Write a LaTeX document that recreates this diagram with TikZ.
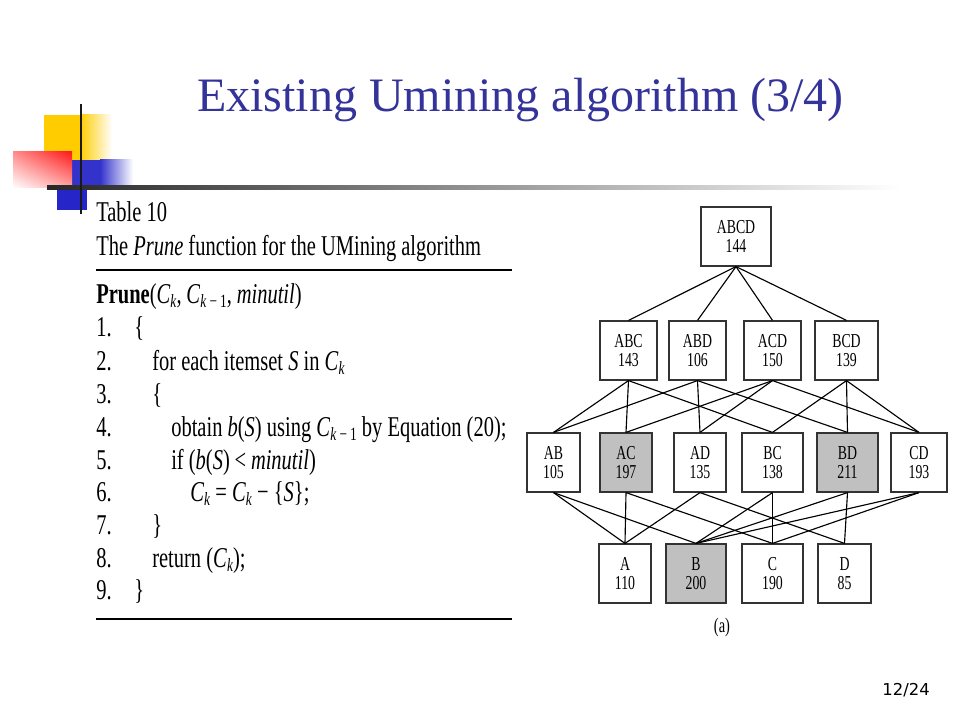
\documentclass[tikz,border=0pt]{standalone}
\usepackage{fontspec}
\usetikzlibrary{shadings}
\setmainfont{Liberation Serif}
\newfontfamily\tabfont[FakeStretch=0.715]{Liberation Serif}
\newfontfamily\latfont[FakeStretch=0.70]{Liberation Serif}
\newfontfamily\pgfont{DejaVu Sans}
\definecolor{titleblue}{HTML}{333399}
\definecolor{logoyel}{HTML}{FFCC00}
\definecolor{logoblue}{HTML}{3333CC}
\definecolor{logoblue2}{HTML}{2626C8}
\definecolor{logored}{HTML}{FF1A1A}
\definecolor{boxgray}{HTML}{C0C0C0}
\newcommand\subx[1]{\raisebox{-0.35ex}{\fontsize{14}{14}\selectfont #1}}
\newcommand\Cx[1]{\textit{C}\subx{#1}}
\begin{document}
\begin{tikzpicture}[x=0.75pt,y=-0.75pt,
  tl/.style={anchor=base west, inner sep=0pt, font=\tabfont\fontsize{21.5}{24}\selectfont, text=black},
  lat/.style={draw=black!80, line width=0.9pt, inner sep=0pt, minimum width=#1*0.75pt,
    minimum height=59*0.75pt, align=center, font=\latfont\fontsize{14.8}{14}\selectfont},
  latg/.style={lat=#1, fill=boxgray},
  edge/.style={line width=0.85pt, black}]
\useasboundingbox (0,0) rectangle (960,720);
\fill[white] (0,0) rectangle (960,720);

% ---- logo ----
\fill[logoyel] (44,115) rectangle (80,160);
\shade[left color=logoyel, right color=white] (80,115) rectangle (112,160);
\fill[logoblue] (72,160) rectangle (100,188);
\shade[left color=logoblue, right color=white] (100,160) rectangle (133,188);
\shade[upper left=red!45!white, upper right=logored, lower left=white, lower right=red!35!white] (13,152) rectangle (72,188);
\fill[logoblue2] (57,188) rectangle (87,210);
\shade[left color=black!85, right color=white] (47,186) rectangle (900,190);
\draw[line width=2.2pt, black!90] (81,104) -- (81,214);

% ---- title ----
\node[anchor=base west, inner sep=0pt, font=\fontsize{36}{36}\selectfont, text=titleblue] (title) at (197,112) {Existing Umining algorithm (3/4)};

% ---- table ----
\node[tl] (t0) at (96,222) {Table 10};
\node[tl] (t1) at (96,256) {The \textit{Prune} function for the UMining algorithm};
\draw[line width=1.4pt] (96,270) -- (512,270);
\node[tl] (p0) at (96,303) {\textbf{Prune}(\Cx{\textit{k}},\,\Cx{\textit{k}\,−\,1},\,\textit{minutil})};
\node[tl] (n1) at (96,336) {1.};
\node[tl] (n2) at (96,370) {2.};
\node[tl] (n3) at (96,403) {3.};
\node[tl] (n4) at (96,436) {4.};
\node[tl] (n5) at (96,469) {5.};
\node[tl] (n6) at (96,501) {6.};
\node[tl] (n7) at (96,534) {7.};
\node[tl] (n8) at (96,567) {8.};
\node[tl] (n9) at (96,599) {9.};
\node[tl] (l1) at (134,336) {\{};
\node[tl] (l2) at (152,370) {for each itemset \textit{S} in \Cx{\textit{k}}};
\node[tl] (l3) at (152,403) {\{};
\node[tl] (l4) at (171,436) {obtain \textit{b}(\textit{S}) using \Cx{\textit{k}\,−\,1} by Equation (20);};
\node[tl] (l5) at (171,469) {if (\textit{b}(\textit{S})\,<\,\textit{minutil})};
\node[tl] (l6) at (190,501) {\Cx{\textit{k}} = \Cx{\textit{k}} − \{\textit{S}\};};
\node[tl] (l7) at (152,534) {\}};
\node[tl] (l8) at (152,567) {return (\Cx{\textit{k}});};
\node[tl] (l9) at (134,599) {\}};
\draw[line width=2pt] (96,619) -- (512,619);

% ---- lattice ----
\node[lat=70] (abcd) at (736,236.5) {ABCD\\144};
\node[lat=57] (abc) at (628.5,350.5) {ABC\\143};
\node[lat=57] (abd) at (697.5,350.5) {ABD\\106};
\node[lat=57] (acd) at (772.5,350.5) {ACD\\150};
\node[lat=63] (bcd) at (846.5,350.5) {BCD\\139};
\node[lat=53] (ab) at (553.5,462.5) {AB\\105};
\node[latg=52] (ac) at (626,462.5) {AC\\197};
\node[lat=52] (ad) at (700,462.5) {AD\\135};
\node[lat=61] (bc) at (772.5,462.5) {BC\\138};
\node[latg=61] (bd) at (847.5,462.5) {BD\\211};
\node[lat=56] (cd) at (919,462.5) {CD\\193};
\node[lat=52] (a) at (625,573.5) {A\\110};
\node[latg=60] (b) at (696,573.5) {B\\200};
\node[lat=61] (c) at (772.5,573.5) {C\\190};
\node[lat=53] (d) at (844.5,573.5) {D\\85};
\foreach \u/\v in {abcd/abc,abcd/abd,abcd/acd,abcd/bcd,
  abc/ab,abc/ac,abc/bc,abd/ab,abd/ad,abd/bd,acd/ac,acd/ad,acd/cd,bcd/bc,bcd/bd,bcd/cd,
  ab/a,ab/b,ac/a,ac/c,ad/a,ad/d,bc/b,bc/c,bd/b,bd/d,cd/b,cd/c}
  \draw[edge] (\u.south) -- (\v.north);
\node[font=\latfont\fontsize{15.5}{15.5}\selectfont, inner sep=0pt] (cap) at (722,628) {(a)};

% ---- page number ----
\node[anchor=base east, inner sep=0pt, font=\pgfont\fontsize{12.3}{12.3}\selectfont] (pg) at (930,695) {12/24};
\end{tikzpicture}
\end{document}
